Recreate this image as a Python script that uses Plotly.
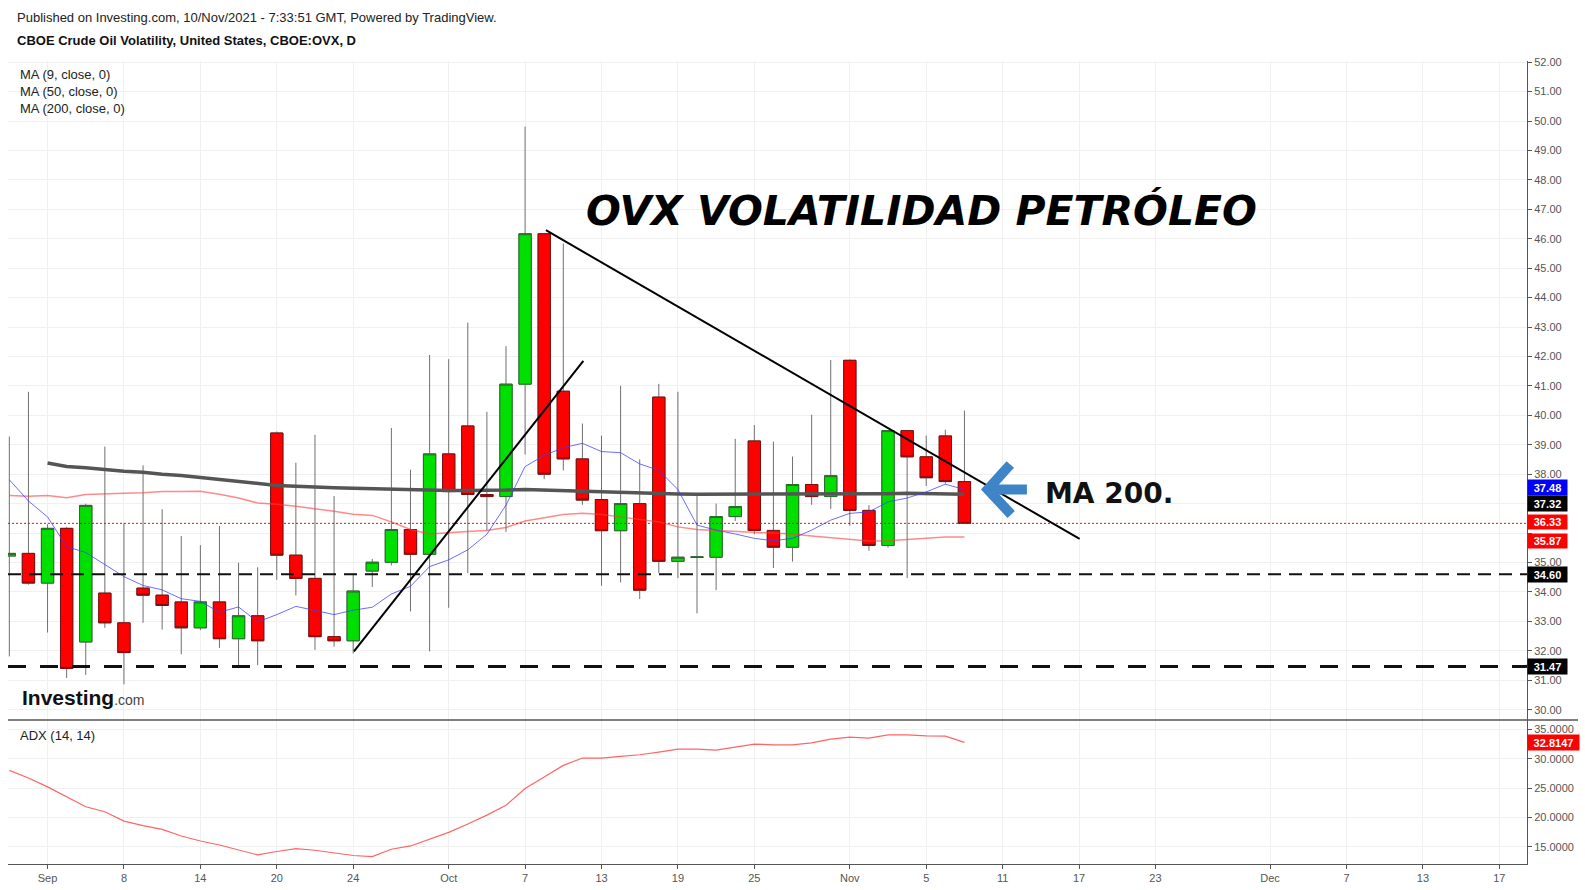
import pandas as pd
import plotly.graph_objects as go

# ---------------- data ----------------
dates = ['2021-08-30', '2021-08-31', '2021-09-01', '2021-09-02', '2021-09-03', '2021-09-07',
         '2021-09-08', '2021-09-09', '2021-09-10', '2021-09-13', '2021-09-14', '2021-09-15',
         '2021-09-16', '2021-09-17', '2021-09-20', '2021-09-21', '2021-09-22', '2021-09-23',
         '2021-09-24', '2021-09-27', '2021-09-28', '2021-09-29', '2021-09-30', '2021-10-01',
         '2021-10-04', '2021-10-05', '2021-10-06', '2021-10-07', '2021-10-08', '2021-10-11',
         '2021-10-12', '2021-10-13', '2021-10-14', '2021-10-15', '2021-10-18', '2021-10-19',
         '2021-10-20', '2021-10-21', '2021-10-22', '2021-10-25', '2021-10-26', '2021-10-27',
         '2021-10-28', '2021-10-29', '2021-11-01', '2021-11-02', '2021-11-03', '2021-11-04',
         '2021-11-05', '2021-11-08', '2021-11-09']

opens = [35.22, 35.31, 34.30, 36.16, 32.30, 33.96, 32.95, 34.13, 33.89, 33.66, 32.78, 33.66,
         32.41, 33.19, 39.40, 35.25, 34.46, 32.48, 32.34, 34.71, 35.01, 36.12, 35.28, 38.69,
         39.64, 37.31, 37.24, 41.06, 46.17, 40.82, 38.52, 37.14, 36.08, 37.00, 40.62, 35.04,
         35.17, 35.18, 36.56, 39.13, 36.09, 35.52, 37.65, 37.24, 41.87, 36.77, 35.58, 39.48,
         38.59, 39.30, 37.75]
highs = [39.28, 40.80, 36.30, 36.20, 37.00, 38.94, 36.33, 38.30, 36.81, 35.90, 35.59, 36.24,
         34.99, 34.84, 39.45, 38.39, 39.34, 37.26, 34.60, 35.12, 39.57, 38.15, 42.05, 41.91,
         43.15, 40.12, 42.35, 49.81, 46.20, 45.84, 39.72, 39.31, 41.00, 38.50, 41.07, 40.80,
         37.28, 37.00, 39.20, 39.67, 39.11, 38.60, 40.02, 41.88, 41.90, 36.95, 39.50, 39.50,
         39.31, 39.51, 40.16]
lows = [31.81, 34.25, 32.62, 31.08, 31.18, 32.78, 30.86, 32.95, 32.72, 31.88, 32.70, 32.10,
        31.51, 31.51, 34.41, 33.88, 32.03, 32.14, 31.91, 34.17, 34.90, 33.34, 31.98, 33.46,
        34.64, 36.09, 36.04, 38.67, 37.83, 38.13, 36.96, 34.21, 34.32, 33.76, 34.64, 34.47,
        33.27, 34.06, 36.41, 35.96, 34.81, 35.03, 36.96, 36.82, 36.25, 35.40, 35.50, 34.47,
        37.60, 37.68, 36.33]
closes = [35.31, 34.30, 36.16, 31.40, 36.94, 32.95, 31.94, 33.89, 33.54, 32.78, 33.66, 32.41,
          33.19, 32.34, 35.25, 34.46, 32.48, 32.34, 34.03, 35.01, 36.12, 35.28, 38.69, 37.41,
          37.31, 37.24, 41.06, 46.17, 38.00, 38.52, 37.12, 36.08, 37.00, 34.06, 35.04, 35.18,
          35.19, 36.56, 36.90, 36.09, 35.52, 37.65, 37.24, 37.95, 36.77, 35.58, 39.48, 38.59,
          37.88, 37.75, 36.33]

ma9 = [37.81, 37.09, 36.55, 35.54, 35.34, 34.92, 34.52, 34.22, 34.07, 33.77, 33.68, 33.31,
       33.49, 32.98, 33.23, 33.51, 33.38, 33.23, 33.38, 33.48, 33.93, 34.19, 34.86, 35.09,
       35.43, 35.96, 36.95, 38.26, 38.64, 38.90, 39.05, 38.77, 38.73, 38.35, 38.13, 37.48,
       36.27, 36.10, 35.97, 35.82, 35.74, 35.82, 36.10, 36.44, 36.67, 36.72, 37.06, 37.19,
       37.40, 37.66, 37.48]
ma50 = [37.28, 37.25, 37.28, 37.20, 37.31, 37.34, 37.35, 37.37, 37.41, 37.41, 37.42, 37.32,
        37.19, 37.02, 36.98, 36.91, 36.83, 36.74, 36.64, 36.60, 36.38, 36.12, 35.97, 36.00,
        36.05, 36.09, 36.19, 36.41, 36.52, 36.63, 36.67, 36.63, 36.55, 36.47, 36.38, 36.21,
        36.12, 36.09, 36.06, 36.04, 36.01, 35.97, 35.90, 35.84, 35.79, 35.73, 35.74, 35.79,
        35.84, 35.87, 35.87]
ma200 = [None, None, 38.38, 38.26, 38.22, 38.16, 38.10, 38.07, 38.00, 37.96, 37.89, 37.82,
         37.77, 37.70, 37.62, 37.59, 37.55, 37.54, 37.52, 37.50, 37.48, 37.46, 37.45, 37.45,
         37.45, 37.45, 37.46, 37.48, 37.46, 37.43, 37.41, 37.39, 37.38, 37.37, 37.35, 37.33,
         37.32, 37.32, 37.32, 37.32, 37.32, 37.32, 37.33, 37.33, 37.33, 37.33, 37.34, 37.35,
         37.34, 37.33, 37.32]
adx = [28.05, 26.76, 25.24, 23.54, 21.84, 21.00, 19.41, 18.63, 18.00, 16.87, 16.02, 15.34,
       14.50, 13.64, 14.22, 14.72, 14.44, 14.05, 13.54, 13.37, 14.61, 15.17, 16.31, 17.49,
       18.90, 20.42, 22.12, 24.95, 26.93, 28.90, 30.15, 30.15, 30.42, 30.71, 31.17, 31.68,
       31.68, 31.51, 32.02, 32.53, 32.41, 32.41, 32.75, 33.37, 33.71, 33.54, 34.10, 34.10,
       33.93, 33.88, 32.81]

tick_dates = ['2021-09-01', '2021-09-08', '2021-09-14', '2021-09-20', '2021-09-24', '2021-10-01',
              '2021-10-07', '2021-10-13', '2021-10-19', '2021-10-25', '2021-11-01', '2021-11-05',
              '2021-11-11', '2021-11-17', '2021-11-23', '2021-12-01', '2021-12-07', '2021-12-13',
              '2021-12-17']
tick_labels = ['Sep', '8', '14', '20', '24', 'Oct', '7', '13', '19', '25', 'Nov', '5', '11', '17',
               '23', 'Dec', '7', '13', '17']

price_ticks = list(range(30, 53))
hidden_price_ticks = [36, 37]   # covered by the last-value tags in the original

support_levels = [34.60, 31.47]
last_close = 36.33
last_ma9 = 37.48
last_ma50 = 35.87
last_ma200 = 37.32
last_adx = 32.8147

up_trend = [('2021-09-24', 31.98), ('2021-10-12', 41.85)]
down_trend = [('2021-10-08', 46.29), ('2021-11-17', 35.80)]

# ---------------- bar calendar (trading-day index) ----------------
calendar = [d for d in pd.bdate_range('2021-08-30', '2021-12-31').strftime('%Y-%m-%d')
            if d != '2021-09-06']
pos = {d: i for i, d in enumerate(calendar)}
xs = [pos[d] for d in dates]
tickvals = [pos[d] for d in tick_dates]

W, H = 1585, 890
SHIFT = 2
def px(x):
    return x / W
def py(y):
    return 1 - (y - SHIFT) / H

XD = [px(8), px(1527)]
Y1D = [py(721), py(58)]
Y2D = [py(866), py(721)]

GREEN = '#00e000'
RED = '#ff0000'

fig = go.Figure()

# wicks
fig.add_trace(go.Candlestick(
    x=xs, open=opens, high=highs, low=lows, close=closes,
    increasing=dict(line=dict(color='#707070', width=1), fillcolor=GREEN),
    decreasing=dict(line=dict(color='#707070', width=1), fillcolor=RED),
    whiskerwidth=0, xaxis='x', yaxis='y', showlegend=False, hoverinfo='skip'))
# bodies with darker borders
fig.add_trace(go.Candlestick(
    x=xs, open=opens, close=closes,
    high=[max(o, c) for o, c in zip(opens, closes)],
    low=[min(o, c) for o, c in zip(opens, closes)],
    increasing=dict(line=dict(color='#2a6a2a', width=1), fillcolor=GREEN),
    decreasing=dict(line=dict(color='#7a1010', width=1), fillcolor=RED),
    whiskerwidth=0, xaxis='x', yaxis='y', showlegend=False, hoverinfo='skip'))

fig.add_trace(go.Scatter(x=xs, y=ma50, mode='lines', line=dict(color='rgba(255,60,60,0.6)', width=1.5),
                         xaxis='x', yaxis='y', showlegend=False, hoverinfo='skip'))
fig.add_trace(go.Scatter(x=xs, y=ma200, mode='lines', line=dict(color='#555555', width=3.5),
                         xaxis='x', yaxis='y', showlegend=False, hoverinfo='skip'))
fig.add_trace(go.Scatter(x=xs, y=ma9, mode='lines', line=dict(color='rgba(60,60,255,0.75)', width=1),
                         xaxis='x', yaxis='y', showlegend=False, hoverinfo='skip'))
fig.add_trace(go.Scatter(x=xs, y=adx, mode='lines', line=dict(color='rgba(255,50,50,0.75)', width=1.2),
                         xaxis='x2', yaxis='y2', showlegend=False, hoverinfo='skip'))

shapes = []
# horizontal support lines
shapes.append(dict(type='line', xref='x domain', yref='y', x0=0, x1=1, y0=support_levels[0], y1=support_levels[0],
                   line=dict(color='#111', width=2, dash='13px,8px'), layer='above'))
shapes.append(dict(type='line', xref='x domain', yref='y', x0=0, x1=1, y0=support_levels[1], y1=support_levels[1],
                   line=dict(color='#111', width=3, dash='18px,14px'), layer='above'))
# last price dotted line
shapes.append(dict(type='line', xref='x domain', yref='y', x0=0, x1=1, y0=last_close, y1=last_close,
                   line=dict(color='red', width=1, dash='2px,2px'), layer='above'))
# trend lines
shapes.append(dict(type='line', xref='x', yref='y', x0=pos[up_trend[0][0]] + 0.04, y0=up_trend[0][1],
                   x1=pos[up_trend[1][0]] + 0.05, y1=up_trend[1][1], line=dict(color='black', width=2)))
shapes.append(dict(type='line', xref='x', yref='y', x0=pos[down_trend[0][0]] + 0.09, y0=down_trend[0][1],
                   x1=pos[down_trend[1][0]] + 0.03, y1=down_trend[1][1], line=dict(color='black', width=2)))
# arrow pointing to MA 200
ax0 = pos['2021-11-10']
shapes.append(dict(type='path', xref='x', yref='y',
                   path=f'M {ax0+1.40},38.33 L {ax0+0.22},37.48 L {ax0+1.45},36.63 '
                        f'M {ax0+0.4},37.48 L {ax0+2.27},37.48',
                   line=dict(color='#3d85c6', width=10)))
# panel separator
shapes.append(dict(type='line', xref='paper', yref='paper', x0=px(8), x1=px(1578), y0=py(721), y1=py(721),
                   line=dict(color='#555', width=1.5)))

ann = []
FONT = 'Arial, Liberation Sans, sans-serif'
def text(x, y, s, size=13, color='#222', anchor='left', family=FONT):
    ann.append(dict(xref='paper', yref='paper', x=px(x), y=py(y), text=s, showarrow=False,
                    xanchor=anchor, yanchor='middle', font=dict(family=family, size=size, color=color)))

text(15, 15, 'Published on Investing.com, 10/Nov/2021 - 7:33:51 GMT, Powered by TradingView.')
text(15, 38, '<b>CBOE Crude Oil Volatility, United States, CBOE:OVX, D</b>', color='#111')
text(18, 72, 'MA (9, close, 0)')
text(18, 89, 'MA (50, close, 0)')
text(18, 106, 'MA (200, close, 0)')
text(18, 737, 'ADX (14, 14)')
text(921, 209, '<b><i>OVX VOLATILIDAD PETRÓLEO</i></b>', size=41, color='black', anchor='center',
     family='DejaVu Sans')
text(1043, 493, '<b>MA 200.</b>', size=28, color='#111', family='DejaVu Sans')
text(20, 698, "<b>Investing</b><span style='font-size:14px;color:#444'>.com</span>", size=21, color='#111')

def price_tag(y, label, bg, yref='y', yshift=0, width=37, height=13):
    ann.append(dict(xref='paper', yref=yref, x=XD[1], y=y, text=f'<b>{label}</b>', showarrow=False,
                    xanchor='left', yanchor='middle', yshift=yshift, bgcolor=bg, width=width, height=height,
                    borderpad=1, align='center', font=dict(family=FONT, size=11, color='white')))

price_tag(last_ma9, f'{last_ma9:.2f}', '#0000ff', yshift=2)
price_tag(last_ma200, f'{last_ma200:.2f}', '#000000', yshift=-9)
price_tag(last_close, f'{last_close:.2f}', '#ff0000', yshift=1.5, height=12)
price_tag(last_ma50, f'{last_ma50:.2f}', '#ff0000', yshift=-4.5, height=12)
price_tag(support_levels[0], f'{support_levels[0]:.2f}', '#000000')
price_tag(support_levels[1], f'{support_levels[1]:.2f}', '#000000')
price_tag(last_adx, f'{last_adx:.4f}', '#ff0000', yref='y2', width=49)

GRID = '#f0f0f0'
AX = '#555555'
xr = [-0.07, 79.45]
price_ticktext = ['' if v in hidden_price_ticks else f'{v:.2f}' for v in price_ticks]

fig.update_layout(
    width=W, height=H, margin=dict(l=0, r=0, t=0, b=0),
    paper_bgcolor='white', plot_bgcolor='white', showlegend=False,
    boxgap=0.355, boxgroupgap=0,
    font=dict(family=FONT, size=11, color=AX),
    shapes=shapes, annotations=ann,
    xaxis=dict(domain=XD, range=xr, anchor='y', tickvals=tickvals, showticklabels=False,
               showgrid=True, gridcolor=GRID, zeroline=False, showline=False, ticks='',
               rangeslider=dict(visible=False)),
    xaxis2=dict(domain=XD, range=xr, anchor='y2', tickvals=tickvals, ticktext=tick_labels,
                showgrid=True, gridcolor=GRID, zeroline=False, showline=True, linecolor=AX, linewidth=1,
                ticks='outside', ticklen=4, tickcolor=AX, tickfont=dict(size=11, color=AX),
                rangeslider=dict(visible=False)),
    yaxis=dict(domain=Y1D, range=[29.65, 52.05], anchor='x', side='right',
               tickvals=price_ticks, ticktext=price_ticktext,
               showgrid=True, gridcolor=GRID, zeroline=False, showline=True,
               linecolor=AX, linewidth=1, ticks='outside', ticklen=4, tickcolor=AX,
               tickfont=dict(size=11, color=AX)),
    yaxis2=dict(domain=Y2D, range=[12.07, 36.64], anchor='x2', side='right', tick0=15, dtick=5,
                tickformat='.4f', showgrid=True, gridcolor=GRID, zeroline=False, showline=True,
                linecolor=AX, linewidth=1, ticks='outside', ticklen=4, tickcolor=AX,
                tickfont=dict(size=11, color=AX)),
)

fig.write_html('out.html', config={'displayModeBar': False})

# remove the browser's default page margin so the figure sits at the window origin
with open('out.html', encoding='utf-8') as f:
    html = f.read()
html = html.replace('<head>', '<head><style>html,body{margin:0;padding:0;overflow:hidden;}</style>', 1)
with open('out.html', 'w', encoding='utf-8') as f:
    f.write(html)
